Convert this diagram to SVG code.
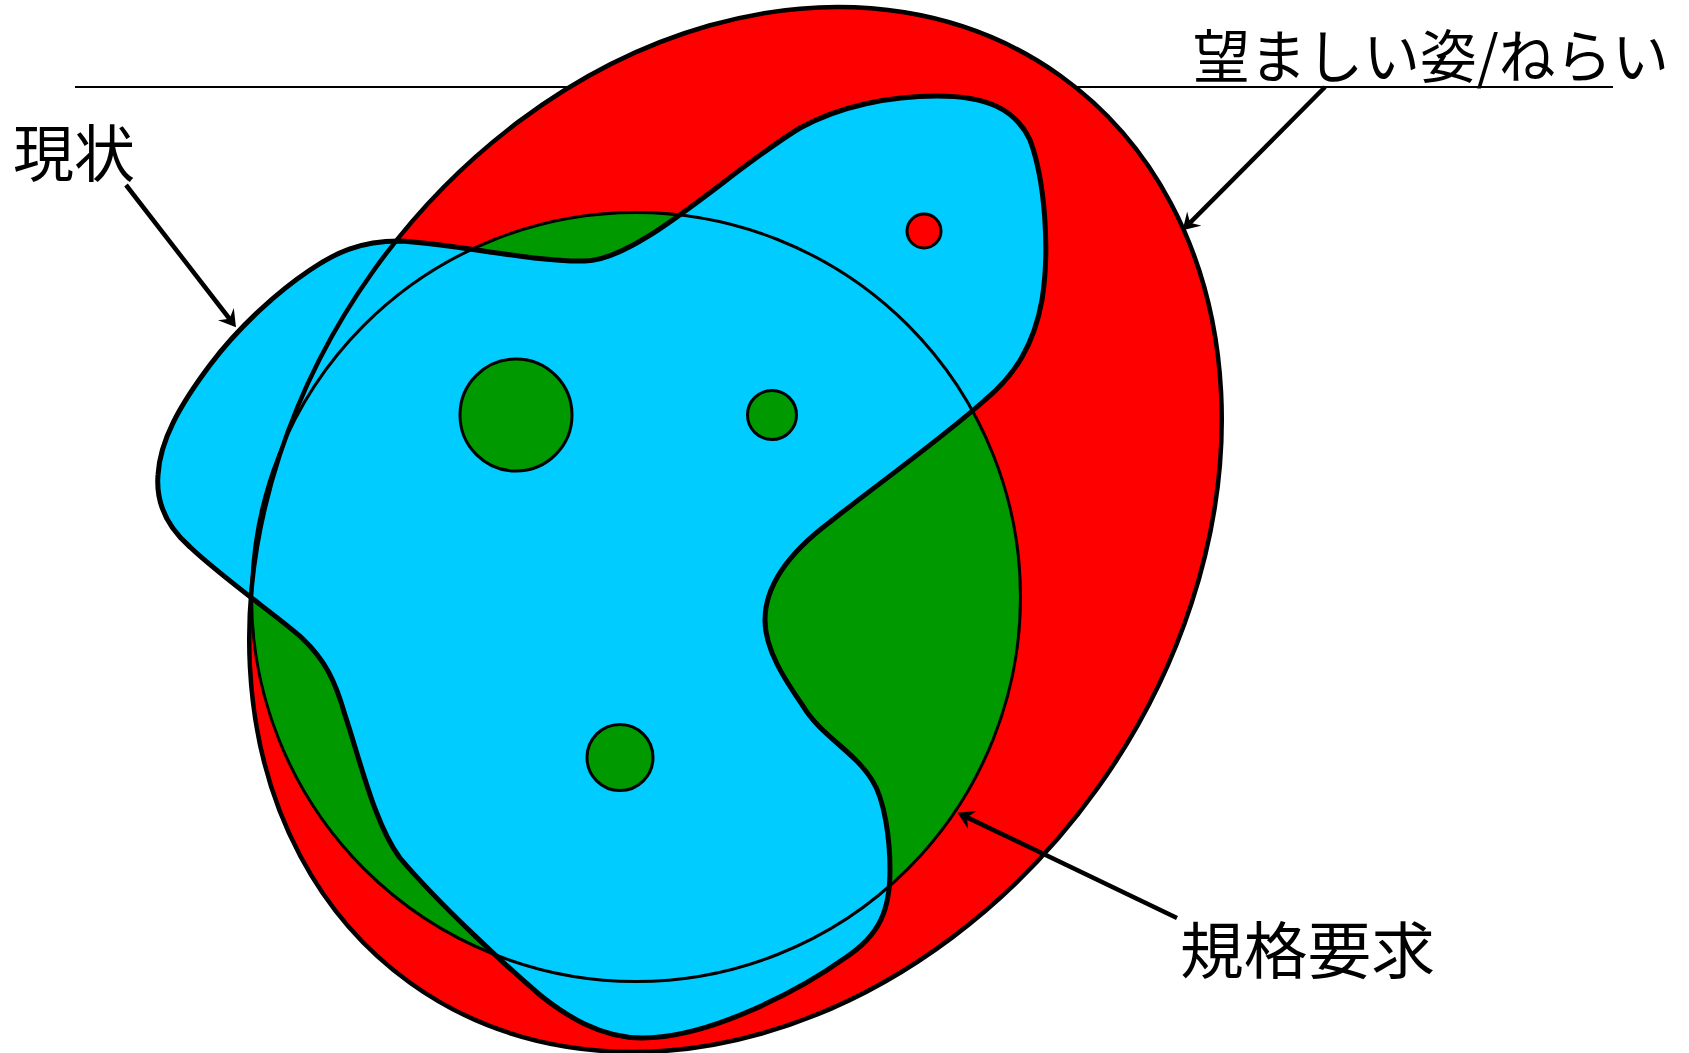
<svg xmlns="http://www.w3.org/2000/svg" width="1689" height="1053" viewBox="0 0 1689 1053">
<style>
.lbl{font-family:"Noto Sans CJK JP","Noto Sans",sans-serif;fill:#000}
.edge{stroke:#000;fill:none}
.conn{stroke:#000;stroke-width:4.5;fill:none;marker-end:url(#ah)}
.spot{stroke:#000;stroke-width:3}
</style>
<defs>
<marker id="ah" markerUnits="userSpaceOnUse" markerWidth="17" markerHeight="20" viewBox="0 0 17 20" refX="10" refY="10" orient="auto">
<path d="M16.5,10 L0,0 L6,10 L0,20 Z" fill="#000"/>
</marker>
</defs>
<rect width="1689" height="1053" fill="#fff"/>
<line x1="75" y1="87" x2="1613" y2="87" stroke="#000" stroke-width="2.2"/>
<g id="goal-fill">
<ellipse cx="0" cy="0" rx="558" ry="445" transform="translate(735.5 529.5) rotate(-54.4)" fill="#ff0000"/>
</g>
<g id="standard-fill">
<circle cx="636" cy="597" r="384.5" fill="#009900"/>
</g>
<g id="current">
<path d="M399,241 C450,243 530,262 585,261 C640,260 730,170 800,128 C840,106 890,96 937,96 C985,96 1015,108 1030,140 C1045,180 1050,250 1042,300 C1034,345 1015,375 985,400 C940,440 870,490 830,522 C790,552 765,585 765,620 C765,650 785,680 803,706 C820,735 855,752 872,780 C885,800 890,840 890,870 C890,910 880,935 845,958 C800,990 710,1038 642,1038 C600,1038 565,1015 540,995 C505,965 440,905 400,858 C375,825 360,760 345,715 C335,680 325,660 302,638 C280,618 225,580 190,547 C165,525 156,500 158,475 C160,440 180,405 210,365 C240,325 280,290 310,270 C335,253 360,241 399,241 Z" fill="#00ccff" stroke="#000" stroke-width="5"/>
</g>
<g id="standard">
<circle class="edge" cx="636" cy="597" r="384.5" stroke-width="3"/>
</g>
<g id="goal">
<ellipse class="edge" cx="0" cy="0" rx="558" ry="445" transform="translate(735.5 529.5) rotate(-54.4)" stroke-width="4.5"/>
</g>
<g id="spot1"><circle class="spot" cx="516" cy="415" r="56" fill="#009900"/></g>
<g id="spot2"><circle class="spot" cx="772" cy="415" r="24.5" fill="#009900"/></g>
<g id="spot3"><circle class="spot" cx="620" cy="757.5" r="33" fill="#009900"/></g>
<g id="spot4"><circle class="spot" cx="924" cy="231" r="17" fill="#ff0000"/></g>
<g id="connectors">
<line class="conn" x1="126" y1="185" x2="232" y2="322"/>
<line class="conn" x1="1325" y1="87" x2="1187.2" y2="225.7"/>
<line class="conn" x1="1177" y1="918" x2="963.4" y2="815.6"/>
</g>
<g id="label-current"><text class="lbl" x="13" y="177" font-size="62" textLength="122" lengthAdjust="spacingAndGlyphs">現状</text></g>
<g id="label-goal"><text class="lbl" x="1193" y="78" font-size="58" textLength="476" lengthAdjust="spacingAndGlyphs">望ましい姿/ねらい</text></g>
<g id="label-standard"><text class="lbl" x="1180" y="974" font-size="62" textLength="255" lengthAdjust="spacingAndGlyphs">規格要求</text></g>
</svg>
